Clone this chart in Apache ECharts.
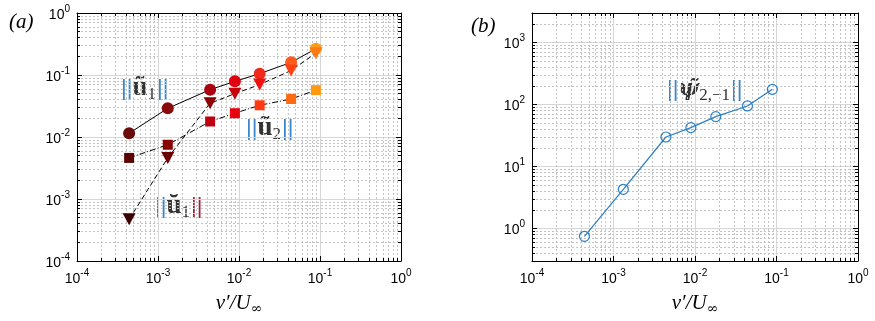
<!DOCTYPE html>
<html lang="en">
<head>
<meta charset="UTF-8">
<title>norms vs v'/U</title>
<script src="https://cdn.jsdelivr.net/npm/echarts@6/dist/echarts.min.js"></script>
<style>
html, body { margin: 0; padding: 0; background: #fff; }
#chart { width: 875px; height: 321px; }
</style>
</head>
<body>
<div id="chart"></div>
<script>
// forcing amplitude v'/U_inf (same for every curve)
var vRatio = [4.4e-4, 1.32e-3, 4.4e-3, 8.9e-3, 1.8e-2, 4.4e-2, 8.9e-2];
// panel (a)
var u1Tilde = [0.0115, 0.029, 0.058, 0.079, 0.105, 0.16, 0.265];
var u1Breve = [4.7e-4, 4.6e-3, 0.035, 0.05, 0.07, 0.118, 0.225];
var u2Tilde = [4.6e-3, 7.5e-3, 0.0178, 0.0242, 0.0325, 0.041, 0.057];
// panel (b)
var psiTilde = [0.75, 4.3, 30, 42.5, 64, 95, 176];

// marker colours, dark -> orange
var colCirc = ['#6b0a0a', '#8a0a0a', '#aa0010', '#e0000f', '#f02a1a', '#ff5a1a', '#ff9a1a'];
var colTri = ['#3d0000', '#6b0000', '#8a0000', '#c8000a', '#f01010', '#ff4010', '#ff7a10'];
var colSq = ['#5a0000', '#8a0000', '#c00010', '#e8000f', '#ff3a10', '#ff6a10', '#ff9a10'];

var myChart = echarts.init(document.getElementById('chart'));

function powLabel(v) {
	var e = Math.log10(v);
	var r = Math.round(e);
	if (Math.abs(e - r) > 1e-6) return '';
	return '{b|10}{s|' + r + '}';
}
var labelRich = {
	b: { fontSize: 14, fontFamily: 'Liberation Sans', color: '#000', lineHeight: 18, verticalAlign: 'bottom' },
	s: { fontSize: 10, fontFamily: 'Liberation Sans', color: '#000', lineHeight: 12, verticalAlign: 'top' }
};
var nameRich = {
	i: { fontSize: 21, fontFamily: 'Liberation Serif', fontStyle: 'italic', color: '#000' },
	sub: { fontSize: 14, fontFamily: 'DejaVu Serif', color: '#000', padding: [11, 0, 0, 0] }
};

function mainAxis(dim, grid, min, max) {
	var ax = {
		type: 'log', gridIndex: grid, min: min, max: max,
		position: dim == 'x' ? 'bottom' : 'left',
		axisLine: { show: true, lineStyle: { color: '#000', width: 1 } },
		axisTick: { show: true, inside: true, length: 5, lineStyle: { color: '#000' } },
		minorTick: { show: true, splitNumber: 9, length: 3, lineStyle: { color: '#000' } },
		axisLabel: {
			show: true, formatter: powLabel, rich: labelRich,
			margin: 7, hideOverlap: false, showMinLabel: true, showMaxLabel: true
		},
		splitLine: { show: true, lineStyle: { color: '#d6d6d6', width: 1 } },
		minorSplitLine: { show: true, lineStyle: { color: '#c4c4c4', width: 1, type: [2, 2] } }
	};
	if (dim == 'x') {
		ax.name = '{i|v′/U}{sub|∞}';
		ax.nameLocation = 'middle';
		ax.nameGap = 30;
		ax.nameTextStyle = { rich: nameRich };
	}
	return ax;
}
function boxAxis(dim, grid, min, max) {
	return {
		type: 'log', gridIndex: grid, min: min, max: max,
		position: dim == 'x' ? 'top' : 'right',
		axisLine: { show: true, lineStyle: { color: '#000', width: 1 } },
		axisTick: { show: true, inside: true, length: 5, lineStyle: { color: '#000' } },
		minorTick: { show: true, splitNumber: 9, length: 3, lineStyle: { color: '#000' } },
		axisLabel: { show: false },
		splitLine: { show: false },
		minorSplitLine: { show: false }
	};
}

function pts(ys, cols) {
	return vRatio.map(function (x, i) {
		var d = { value: [x, ys[i]] };
		if (cols) d.itemStyle = { color: cols[i] };
		return d;
	});
}

// ||x|| labels: each bar blue with an orange fringe
var barStyle = { fontSize: 22, fontFamily: 'Liberation Sans', fill: '#3a86c8', textShadowColor: '#e08a1e', textShadowOffsetX: -1.5, lineHeight: 26, verticalAlign: 'middle' };
var barStyleR = Object.assign({}, barStyle, { fill: '#a0203a', textShadowColor: '#5050a0', textShadowOffsetX: -1.2 });
var letterStyle = { fontSize: 27, fontFamily: 'Liberation Serif', fontWeight: 'bold', fill: '#333', lineHeight: 26, verticalAlign: 'middle' };
var subStyle = { fontSize: 17, fontFamily: 'Liberation Serif', fill: '#333', lineHeight: 26, verticalAlign: 'middle', padding: [12, 1, 0, 0] };
function normLabel(x, y, sym, sub, right, italic) {
	var l = Object.assign({}, letterStyle);
	if (italic) { l.fontStyle = 'italic'; l.fontFamily = 'DejaVu Serif'; l.fontSize = 22; }
	return {
		type: 'text', left: x, top: y,
		style: {
			text: '{o|||}{u|' + sym + '}{n|' + sub + '}{' + (right || 'o') + '|||}',
			rich: { o: barStyle, r: barStyleR, u: l, n: subStyle }
		}
	};
}

var option = {
	animation: false,
	grid: [
		{ left: 77, top: 13, width: 324, height: 249 },
		{ left: 532, top: 13, width: 326, height: 249 }
	],
	xAxis: [
		mainAxis('x', 0, 1e-4, 1),
		boxAxis('x', 0, 1e-4, 1),
		mainAxis('x', 1, 1e-4, 1),
		boxAxis('x', 1, 1e-4, 1)
	],
	yAxis: [
		mainAxis('y', 0, 1e-4, 1),
		boxAxis('y', 0, 1e-4, 1),
		mainAxis('y', 1, 0.3, 3000),
		boxAxis('y', 1, 0.3, 3000)
	],
	series: [
		{
			name: 'u1tilde', type: 'line', xAxisIndex: 0, yAxisIndex: 0,
			data: pts(u1Tilde, colCirc),
			symbol: 'circle', symbolSize: 12,
			lineStyle: { color: '#000', width: 1 }
		},
		{
			name: 'u1breve', type: 'line', xAxisIndex: 0, yAxisIndex: 0,
			data: pts(u1Breve, colTri),
			symbol: 'triangle', symbolSize: [13, 12], symbolRotate: 180,
			lineStyle: { color: '#000', width: 1, type: [5, 3] }
		},
		{
			name: 'u2tilde', type: 'line', xAxisIndex: 0, yAxisIndex: 0,
			data: pts(u2Tilde, colSq),
			symbol: 'rect', symbolSize: 10,
			lineStyle: { color: '#000', width: 1, type: [6, 2, 1, 2] }
		},
		{
			name: 'psi', type: 'line', xAxisIndex: 2, yAxisIndex: 2,
			data: pts(psiTilde),
			symbol: 'circle', symbolSize: 10,
			itemStyle: { color: 'rgba(255,255,255,0)', borderColor: '#2a7fc4', borderWidth: 1.2 },
			lineStyle: { color: '#2a7fc4', width: 1.2 }
		}
	],
	graphic: [
		{ type: 'text', left: 9, top: 12, style: { text: '(a)', font: 'italic 21px "Liberation Serif"', fill: '#000' } },
		{ type: 'text', left: 471, top: 16, style: { text: '(b)', font: 'italic 21px "Liberation Serif"', fill: '#000' } },
		normLabel(121, 74, 'ũ', '1'),
		normLabel(246, 114, 'ũ', '2'),
		normLabel(155, 192, 'ŭ', '1', 'r'),
		normLabel(667, 75, 'ψ̃', '2,−1', null, true)
	]
};

myChart.setOption(option);
</script>
</body>
</html>
